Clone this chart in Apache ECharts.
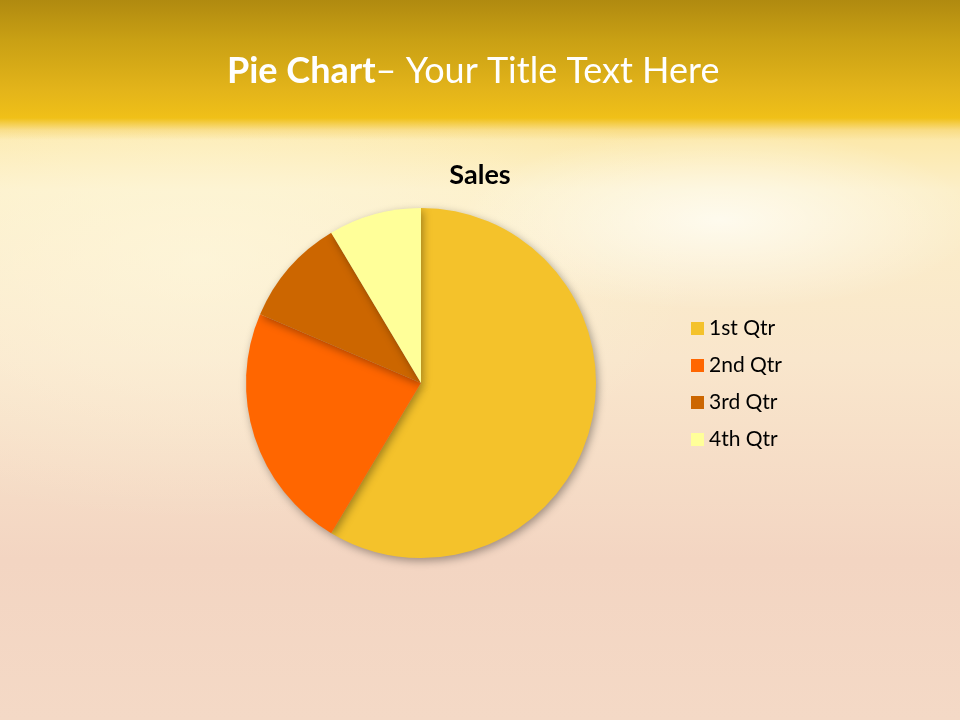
<!DOCTYPE html>
<html><head><meta charset="utf-8">
<script src="https://cdn.jsdelivr.net/npm/echarts@6/dist/echarts.min.js"></script>
<style>
html,body{margin:0;padding:0;width:960px;height:720px;overflow:hidden;}
#bg{position:absolute;left:0;top:0;width:960px;height:720px;
background:
 radial-gradient(ellipse 260px 90px at 720px 220px, rgba(255,255,250,0.75), rgba(255,255,250,0) 100%),
 radial-gradient(ellipse 500px 260px at 200px 260px, rgba(255,250,225,0.6), rgba(255,250,225,0) 100%),
 linear-gradient(180deg,#FCE6A0 122px,#FCEFC8 190px,#F9E6CC 360px,#F3D5C2 560px,#F4D9C6 720px);}
#band{position:absolute;left:0;top:0;width:960px;height:140px;
background:linear-gradient(180deg,#B08A10 0px,#C9A014 40px,#E3B41A 90px,#F0C018 118px,rgba(246,210,100,0.5) 130px,rgba(252,230,160,0) 140px);}
#chart{position:absolute;left:0;top:0;width:960px;height:720px;}
</style></head>
<body><div id="bg"></div><div id="band"></div><div id="chart"></div>
<script>
const categories = ['1st Qtr','2nd Qtr','3rd Qtr','4th Qtr'];
const sales = [8.2, 3.2, 1.4, 1.2];
const colors = ['#F4C22B','#FF6600','#CC6600','#FFFF99'];
const chart = echarts.init(document.getElementById('chart'));
chart.setOption({
  backgroundColor:'transparent',
  title:[
    {text:'{b|Pie Chart}{n|– Your Title Text Here}', left:222, top:48,
     textStyle:{rich:{b:{fontFamily:'Lato',fontWeight:'bold',fontSize:36,color:'#fff'},
                      n:{fontFamily:'Lato',fontWeight:'normal',fontSize:36,color:'#fff'}}}},
    {text:'Sales', left:'center', top:157,
     textStyle:{fontFamily:'Lato',fontWeight:'bold',fontSize:27,color:'#000'}}
  ],
  legend:{orient:'vertical', left:686, top:313, itemWidth:13, itemHeight:13, itemGap:16,
    icon:'rect', data:categories,
    textStyle:{fontFamily:'Lato',fontSize:21,color:'#000'}},
  series:[{type:'pie', center:[421,383], radius:175, startAngle:90, clockwise:true,
    label:{show:false}, labelLine:{show:false}, silent:true, animation:false,
    itemStyle:{shadowBlur:8, shadowOffsetX:2, shadowOffsetY:3, shadowColor:'rgba(0,0,0,0.35)'},
    data:categories.map((c,i)=>({name:c, value:sales[i], itemStyle:{color:colors[i]}}))
  }]
});
</script></body></html>
